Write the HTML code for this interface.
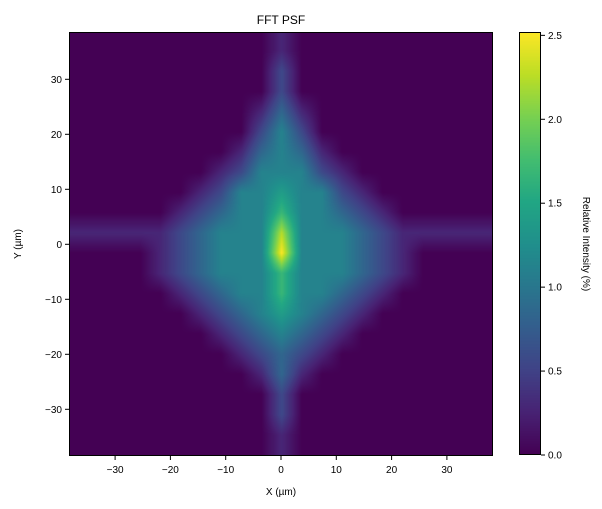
<!DOCTYPE html>
<html><head><meta charset="utf-8"><style>
html,body{margin:0;padding:0;background:#fff;}
svg text{font-family:"Liberation Sans",sans-serif;fill:#000;}
</style></head><body>
<div style="position:relative;width:602px;height:509px;">
<canvas id="hm" width="424" height="424" style="position:absolute;left:69px;top:32px;"></canvas>
<canvas id="cb" width="22" height="423" style="position:absolute;left:519px;top:32px;"></canvas>
<svg id="ov" width="602" height="509" style="position:absolute;left:0;top:0;"></svg>
</div>
<script>
// Intensity grid (digits 0-9, each step = 0.28 %), rows top→bottom, 21 columns
const gridRows = [
"000000000010000000000",
"000000000010000000000",
"000000000020000000000",
"000000000020000000000",
"000000000131000000000",
"000000000242000000000",
"000000001343100000000",
"000000012444210000000",
"000000124454421000000",
"000001234464432100000",
"111112344484443211111",
"000012344494443210000",
"000012344464443210000",
"000001234464432100000",
"000000123454321000000",
"000000012343210000000",
"000000001232100000000",
"000000000131000000000",
"000000000020000000000",
"000000000020000000000",
"000000000010000000000",
"000000000010000000000"
];
const digitScale = 0.28;
const xTicks = [-30,-20,-10,0,10,20,30];
const yTicks = [-30,-20,-10,0,10,20,30];
const cbTicks = [0.0,0.5,1.0,1.5,2.0,2.5];
const vmax = 2.52;

const vir = [[68,1,84],[72,35,116],[64,67,135],[52,94,141],[41,120,142],[32,144,140],[34,167,132],[68,190,112],[121,209,81],[189,222,38],[253,231,37]];
function cmap(t){t=Math.max(0,Math.min(1,t));const f=t*10,i=Math.min(9,Math.floor(f)),u=f-i;const a=vir[i],b=vir[i+1];return [a[0]+(b[0]-a[0])*u,a[1]+(b[1]-a[1])*u,a[2]+(b[2]-a[2])*u];}

const X0=69,Y0=32,W=424,H=424;
const xs=v=>281+v*5.53, ys=v=>244.3-v*5.5;
const nR=gridRows.length,nC=gridRows[0].length,cell=20.2;
const colC=c=>281.7+(c-10)*cell, rowC=r=>253+(r-11)*cell;
function val(r,c){r=Math.max(0,Math.min(nR-1,r));c=Math.max(0,Math.min(nC-1,c));return (+gridRows[r][c])*digitScale;}

const hm=document.getElementById('hm').getContext('2d');
const img=hm.createImageData(W,H);
for(let py=0;py<H;py++){const fy=(Y0+py+0.5-rowC(0))/cell;const r0=Math.floor(fy),v=fy-r0;
 for(let px=0;px<W;px++){const fx=(X0+px+0.5-colC(0))/cell;const c0=Math.floor(fx),u=fx-c0;
  const val2=(val(r0,c0)*(1-u)+val(r0,c0+1)*u)*(1-v)+(val(r0+1,c0)*(1-u)+val(r0+1,c0+1)*u)*v;
  const col=cmap(val2/vmax);const k=(py*W+px)*4;img.data[k]=col[0];img.data[k+1]=col[1];img.data[k+2]=col[2];img.data[k+3]=255;}}
hm.putImageData(img,0,0);

const cb=document.getElementById('cb').getContext('2d');
for(let y=0;y<423;y++){const col=cmap(1-y/422);cb.fillStyle=`rgb(${col[0]|0},${col[1]|0},${col[2]|0})`;cb.fillRect(0,y,22,1);}

const ov=document.getElementById('ov');const NS='http://www.w3.org/2000/svg';
function mk(tag,attrs,txt){const e=document.createElementNS(NS,tag);for(const k in attrs)e.setAttribute(k,attrs[k]);if(txt!==undefined)e.textContent=txt;ov.appendChild(e);return e;}
let e;
e=mk('rect',{x:69.5,y:32.5,width:423,height:423,fill:'none',stroke:'#000','stroke-width':1});


e=mk('rect',{x:519.5,y:32.5,width:21,height:422,fill:'none',stroke:'#000','stroke-width':1});


xTicks.forEach(t=>{const x=xs(t);
 e=mk('line',{x1:x,y1:456,x2:x,y2:460,stroke:'#000'});
 
 
 e=mk('text',{x:x,y:473,'font-size':10,'text-anchor':'middle'},t<0?'\u2212'+(-t):''+t);
 
 });
yTicks.forEach(t=>{const y=ys(t);
 e=mk('line',{x1:65,y1:y,x2:69,y2:y,stroke:'#000'});
 
 
 e=mk('text',{x:62,y:y+3.5,'font-size':10,'text-anchor':'end'},t<0?'\u2212'+(-t):''+t);
 
 });
cbTicks.forEach(t=>{const y=455-t/vmax*423;
 e=mk('line',{x1:541,y1:y,x2:545,y2:y,stroke:'#000'});
 
 
 e=mk('text',{x:548,y:y+3.5,'font-size':10},t.toFixed(1));
 
 });
e=mk('text',{x:281,y:24,'font-size':12,'text-anchor':'middle'},'FFT PSF');


e=mk('text',{x:281,y:495,'font-size':10,'text-anchor':'middle'},'X (\u00b5m)');


e=mk('text',{x:21,y:244,'font-size':10,'text-anchor':'middle',transform:'rotate(-90 21 244)'},'Y (\u00b5m)');


e=mk('text',{x:583,y:244,'font-size':10,'text-anchor':'middle',transform:'rotate(90 583 244)'},'Relative Intensity (%)');


</script>
</body></html>
